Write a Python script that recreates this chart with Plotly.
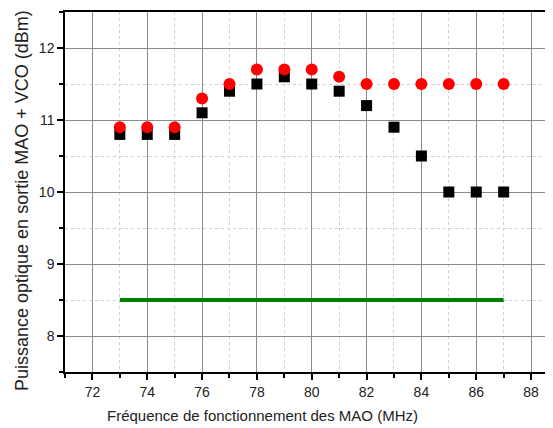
import plotly.graph_objects as go

FREQ = [73, 74, 75, 76, 77, 78, 79, 80, 81, 82, 83, 84, 85, 86, 87]
P_MAO_VCO = [10.8, 10.8, 10.8, 11.1, 11.4, 11.5, 11.6, 11.5, 11.4, 11.2, 10.9, 10.5, 10.0, 10.0, 10.0]
P_RED = [10.9, 10.9, 10.9, 11.3, 11.5, 11.7, 11.7, 11.7, 11.6, 11.5, 11.5, 11.5, 11.5, 11.5, 11.5]
SEUIL_X = [73, 87]
SEUIL_Y = [8.5, 8.5]

FONT = "Liberation Sans, Arial, sans-serif"
GRID = "#8a8a8a"
MINOR_GRID = "#d0d0d0"

# the page body adds an 8px margin, so the figure is 8px smaller than the window
W, H = 545, 420
L, T, B = 57, 4, 56
PW, PH = W - L, H - T - B

fig = go.Figure()
fig.add_trace(go.Scatter(
    x=SEUIL_X, y=SEUIL_Y, mode="lines",
    line=dict(color="#008000", width=4),
))
fig.add_trace(go.Scatter(
    x=FREQ, y=P_MAO_VCO, mode="markers",
    marker=dict(symbol="square", size=11, color="black"),
))
fig.add_trace(go.Scatter(
    x=FREQ, y=P_RED, mode="markers",
    marker=dict(symbol="circle", size=12, color="#ff0000"),
))

axis_common = dict(
    showline=True, linecolor="black", linewidth=1.5,
    ticks="outside", ticklen=6, tickcolor="black", tickwidth=1.5,
    showgrid=True, gridcolor=GRID, gridwidth=1,
    zeroline=False,
    tickfont=dict(family=FONT, size=14, color="#222222"),
)

fig.update_layout(
    width=W, height=H,
    paper_bgcolor="#FFFFFF", plot_bgcolor="#FFFFFF",
    showlegend=False,
    margin=dict(l=L, r=0, t=T, b=B),
    xaxis=dict(
        range=[71, 88.8], tick0=72, dtick=2, mirror=True,
        minor=dict(dtick=1, tick0=71, ticks="outside", ticklen=4, tickcolor="black",
                   showgrid=True, gridcolor=MINOR_GRID, griddash="dot", gridwidth=1),
        **axis_common,
    ),
    yaxis=dict(
        range=[7.5, 12.5], tick0=8, dtick=1,
        minor=dict(dtick=0.5, tick0=7.5, ticks="outside", ticklen=4, tickcolor="black",
                   showgrid=True, gridcolor=MINOR_GRID, griddash="dot", gridwidth=1),
        **axis_common,
    ),
    annotations=[
        dict(text="Fréquence de fonctionnement des MAO (MHz)",
             xref="paper", yref="paper", x=(254 - L) / PW, y=-(407 - (H - B)) / PH,
             xanchor="center", yanchor="middle", showarrow=False,
             font=dict(family=FONT, size=15, color="#222222")),
        dict(text="Puissance optique en sortie MAO + VCO (dBm)",
             xref="paper", yref="paper", x=-(L - 14) / PW, y=1 - (193 - T) / PH,
             xanchor="center", yanchor="middle", showarrow=False, textangle=-90,
             font=dict(family=FONT, size=18, color="#222222")),
    ],
)

fig.write_html("out.html")
